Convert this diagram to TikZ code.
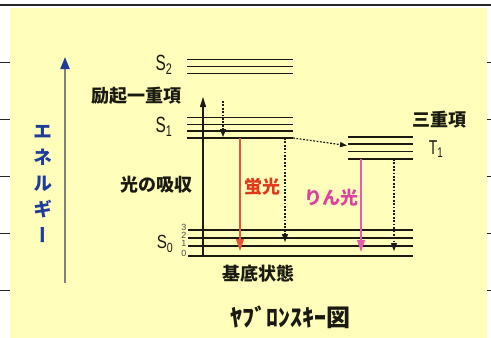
\documentclass[tikz,border=0pt]{standalone}
\usepackage{fontspec}
\setmainfont{Liberation Sans}
\newfontfamily\jp{Noto Sans CJK JP}
\newfontfamily\jpv{Noto Sans CJK JP}[RawFeature=+vert]
\usetikzlibrary{arrows.meta}
\definecolor{bgyellow}{HTML}{FFFFBB}
\definecolor{eblue}{HTML}{1E3C9A}
\definecolor{egray}{HTML}{808080}
\definecolor{flred}{HTML}{E2381A}
\definecolor{phpink}{HTML}{E0409E}
\definecolor{txt}{HTML}{1A1A10}
\tikzset{
  rule/.style={line width=1pt, black!85},
  lvl/.style={line width=1.9pt, txt},
  jplabel/.style={font=\jp\bfseries\fontsize{18}{20}\selectfont, text=txt, inner sep=0pt},
  slabel/.style={font=\fontsize{22}{24}\selectfont, text=txt, inner sep=0pt},
  numlabel/.style={font=\fontsize{9}{9}\selectfont, text=black!70, inner sep=0pt},
  solidarrow/.style={line width=1.1pt, txt, -{Triangle[length=10pt,width=6pt]}},
  dotarrow/.style={line width=1.2pt, txt, dash pattern=on 1.8pt off 1.6pt, -{Triangle[length=8pt,width=6pt]}},
  colarrow/.style={line width=1.2pt, -{Triangle[length=12pt,width=8pt]}}
}
\begin{document}
\begin{tikzpicture}[x=1pt,y=-1pt]
\useasboundingbox (0,0) rectangle (491,338);
\fill[white] (0,0) rectangle (491,338);
% ruled background
\foreach \yy in {62,119,176,233,290} \draw[rule] (0,\yy) -- (491,\yy);
\draw[line width=1.5pt, black!85] (0,5) -- (491,5);
\fill[bgyellow] (10,8) rectangle (487,338);

% energy axis
\coordinate (ebot) at (65,283);
\coordinate (etop) at (65,57);
\draw[line width=1.8pt, egray, -{Triangle[length=12pt,width=9pt,color=eblue]}] (ebot) -- (etop);
\node[font=\jpv\bfseries\fontsize{19}{26}\selectfont, text=eblue, align=center, inner sep=0pt] (energy) at (43,184) {エ\\ネ\\ル\\ギ\\ー};

% S2 levels
\foreach \yy in {59.5,66.5,73.5} \draw[lvl] (187,\yy) -- (293,\yy);
\node[slabel] (s2) at (164,65) {\scalebox{0.7}[1]{S\textsubscript{2}}};
% S1 levels
\foreach \yy in {117.5,124.5,131,138} \draw[lvl] (187,\yy) -- (293,\yy);
\node[slabel] (s1) at (164,127) {\scalebox{0.7}[1]{S\textsubscript{1}}};
% T1 levels
\foreach \yy in {137,144,151.5,159} \draw[lvl] (348,\yy) -- (413,\yy);
\node[slabel, font=\fontsize{20}{22}\selectfont] (t1) at (436,149) {\scalebox{0.7}[1]{T\textsubscript{1}}};
% S0 levels
\foreach \yy in {230,238,246,256} \draw[lvl] (188,\yy) -- (413,\yy);
\node[slabel, font=\fontsize{19}{21}\selectfont] (s0) at (165,244) {\scalebox{0.8}[1]{S\textsubscript{0}}};
\node[numlabel] (n3) at (184,227.5) {3};
\node[numlabel] (n2) at (184,235) {2};
\node[numlabel] (n1) at (184,243) {1};
\node[numlabel] (n0) at (184,253.5) {0};

% labels
\node[jplabel] (reiki) at (137,96) {励起一重項};
\node[jplabel] (sanju) at (439,120) {三重項};
\node[jplabel] (kyushu) at (157,185) {光の吸収};
\node[jplabel] (kitei) at (258,274) {基底状態};
\node[jplabel, text=flred] (keiko) at (262,187) {蛍光};
\node[jplabel, text=phpink] (rinko) at (331,198) {りん光};
\node[font=\jp\bfseries\fontsize{24}{26}\selectfont, text=txt, inner sep=0pt] (title) at (290,317) {ﾔﾌﾞﾛﾝｽｷｰ図};

% transitions
\coordinate (ab0) at (203,256);
\coordinate (ab1) at (203,97);
\draw[solidarrow] (ab0) -- (ab1);
\coordinate (vr0) at (223,101);
\coordinate (vr1) at (223,137);
\draw[dotarrow] (vr0) -- (vr1);
\coordinate (fl0) at (240,138);
\coordinate (fl1) at (240,251);
\draw[colarrow, flred!85] (fl0) -- (fl1);
\coordinate (nr0) at (285,138);
\coordinate (nr1) at (285,242);
\draw[dotarrow] (nr0) -- (nr1);
\coordinate (isc0) at (293,138);
\coordinate (isc1) at (347,145.5);
\draw[dotarrow, -{Triangle[length=7pt,width=5pt]}] (isc0) -- (isc1);
\coordinate (ph0) at (361,159);
\coordinate (ph1) at (361,252);
\draw[colarrow, phpink!85] (ph0) -- (ph1);
\coordinate (nt0) at (394,159);
\coordinate (nt1) at (394,251);
\draw[dotarrow] (nt0) -- (nt1);
\end{tikzpicture}
\end{document}
